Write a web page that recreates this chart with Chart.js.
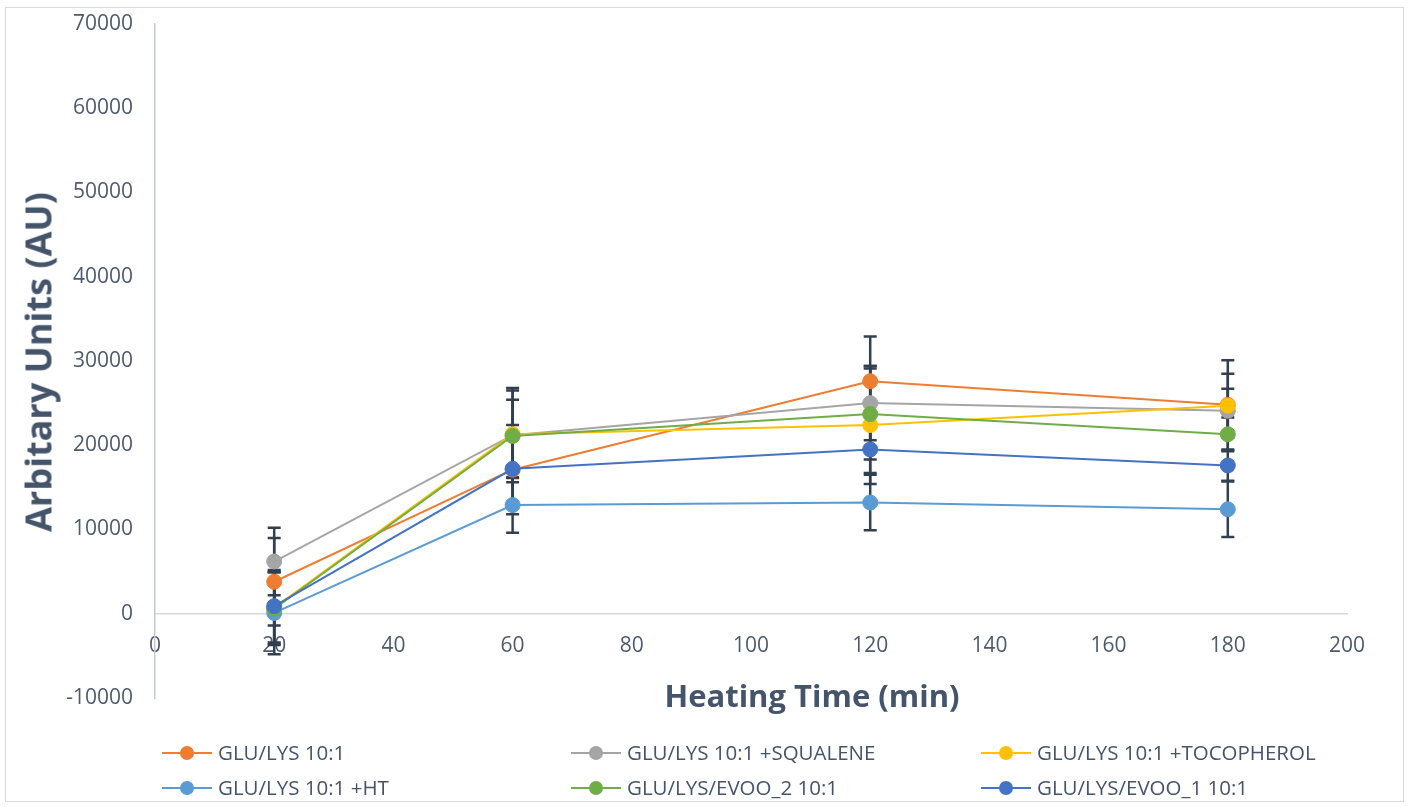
<!DOCTYPE html>
<html>
<head>
<meta charset="utf-8">
<script src="https://cdn.jsdelivr.net/npm/chart.js@4/dist/chart.umd.min.js"></script>
<style>
  html, body { margin: 0; padding: 0; background: #ffffff; }
  #wrap { position: relative; width: 1410px; height: 807px; overflow: hidden; font-family: "Open Sans", sans-serif; }
  #frame { position: absolute; left: 5px; top: 7px; width: 1399px; height: 795px; border: 1px solid #D9D9D9; box-sizing: border-box; }
  canvas { position: absolute; left: 0; top: 0; }
  .title { position: absolute; color: #44546A; font-weight: bold; white-space: nowrap; }
  #ytitle { font-size: 36px; left: 38px; top: 362px; transform: translate(-50%, -50%) rotate(-90deg); }
  #xtitle { font-size: 31px; left: 812px; top: 695px; transform: translate(-50%, -50%); }
  .leg { position: absolute; height: 20px; white-space: nowrap; color: #44546A; font-size: 20.5px; }
  .leg .ln { position: absolute; left: 0; top: 9px; width: 50px; height: 2px; }
  .leg .dot { position: absolute; left: 18px; top: 3px; width: 14px; height: 14px; border-radius: 50%; }
  .leg .tx { position: absolute; left: 56px; top: -4px; line-height: 27px; }
</style>
</head>
<body>
<div id="wrap">
  <div id="frame"></div>
  <canvas id="c" width="1410" height="807"></canvas>
  <div id="ytitle" class="title">Arbitary Units (AU)</div>
  <div id="xtitle" class="title">Heating Time (min)</div>
  <div id="legend"></div>
</div>
<script>
// ---- data ----
const heatingTimes = [20, 60, 120, 180];
const seriesNames = [
  "GLU/LYS 10:1",
  "GLU/LYS 10:1 +SQUALENE",
  "GLU/LYS 10:1 +TOCOPHEROL",
  "GLU/LYS 10:1 +HT",
  "GLU/LYS/EVOO_2 10:1",
  "GLU/LYS/EVOO_1 10:1"
];
const gluLys        = [3800, 17100, 27600, 24800];
const gluLysSqual   = [6200, 21200, 25000, 24100];
const gluLysToco    = [700, 21300, 22400, 24700];
const gluLysHT      = [100, 12900, 13200, 12400];
const gluLysEvoo2   = [600, 21100, 23700, 21300];
const gluLysEvoo1   = [900, 17200, 19500, 17600];

const errGluLys      = [5200, 5300, 5300, 5300];
const errGluLysSqual = [4000, 5600, 4400, 2600];
const errGluLysToco  = [4300, 5200, 7000, 3800];
const errGluLysHT    = [4900, 3300, 3300, 3300];
const errGluLysEvoo2 = [4300, 4300, 5400, 2000];
const errGluLysEvoo1 = [4300, 4200, 2800, 1800];

const yTicks = [-10000, 0, 10000, 20000, 30000, 40000, 50000, 60000, 70000];
const xTicks = [0, 20, 40, 60, 80, 100, 120, 140, 160, 180, 200];

const seriesValues = [gluLys, gluLysSqual, gluLysToco, gluLysHT, gluLysEvoo2, gluLysEvoo1];
const seriesErrors = [errGluLys, errGluLysSqual, errGluLysToco, errGluLysHT, errGluLysEvoo2, errGluLysEvoo1];
const seriesColors = ["#ED7D31", "#A5A5A5", "#FFC000", "#5B9BD5", "#70AD47", "#4472C4"];

const datasets = seriesNames.map((name, i) => ({
  label: name,
  order: seriesNames.length - 1 - i,
  data: heatingTimes.map((x, j) => ({ x: x, y: seriesValues[i][j] })),
  errors: seriesErrors[i],
  borderColor: seriesColors[i],
  backgroundColor: seriesColors[i],
  pointBackgroundColor: seriesColors[i],
  pointBorderColor: seriesColors[i],
  pointRadius: 7.5,
  pointBorderWidth: 1,
  borderWidth: 2,
  tension: 0,
  fill: false
}));

const errorBarPlugin = {
  id: 'errorBars',
  beforeDatasetsDraw(chart) {
    const ctx = chart.ctx;
    const xs = chart.scales.x, ys = chart.scales.y;
    ctx.save();
    ctx.strokeStyle = '#323F4F';
    ctx.lineWidth = 2.5;
    chart.data.datasets.forEach(ds => {
      ds.data.forEach((p, j) => {
        const e = ds.errors[j];
        const px = xs.getPixelForValue(p.x);
        const top = ys.getPixelForValue(p.y + e);
        const bot = ys.getPixelForValue(p.y - e);
        ctx.beginPath();
        ctx.moveTo(px, top); ctx.lineTo(px, bot);
        ctx.moveTo(px - 6.5, top); ctx.lineTo(px + 6.5, top);
        ctx.moveTo(px - 6.5, bot); ctx.lineTo(px + 6.5, bot);
        ctx.stroke();
      });
    });
    ctx.restore();
  }
};

new Chart(document.getElementById('c'), {
  type: 'line',
  data: { datasets: datasets },
  options: {
    responsive: false,
    animation: false,
    layout: { padding: { left: 0, right: 63, top: 24, bottom: 109 } },
    plugins: { legend: { display: false }, tooltip: { enabled: false } },
    scales: {
      x: {
        type: 'linear',
        position: { y: 0 },
        min: 0, max: 200,
        afterBuildTicks(scale) { scale.ticks = xTicks.map(v => ({ value: v })); },
        afterFit(scale) { scale.paddingTop = 0; scale.paddingBottom = 0; },
        grid: { display: false, drawTicks: false },
        border: { display: true, color: '#D9D9D9', width: 1.5 },
        ticks: { padding: 20, color: '#4D5B6E', font: { family: 'Open Sans', size: 21 }, maxRotation: 0,
                 callback: v => String(v) }
      },
      y: {
        type: 'linear',
        min: -10000, max: 70000,
        afterBuildTicks(scale) { scale.ticks = yTicks.map(v => ({ value: v })); },
        afterFit(scale) { scale.width = 155; scale.paddingTop = 0; scale.paddingBottom = 0; },
        grid: { display: false, drawTicks: false },
        border: { display: true, color: '#C3C9D2', width: 1.5 },
        ticks: { padding: 22, color: '#4D5B6E', font: { family: 'Open Sans', size: 21 },
                 callback: v => String(v) }
      }
    }
  },
  plugins: [errorBarPlugin]
});

// HTML legend built from the series arrays
const legendCols = [162, 571, 981];
const legendRows = [743, 778];
const legendEl = document.getElementById('legend');
seriesNames.forEach((name, i) => {
  const d = document.createElement('div');
  d.className = 'leg';
  d.style.left = legendCols[i % 3] + 'px';
  d.style.top = legendRows[Math.floor(i / 3)] + 'px';
  d.innerHTML = '<div class="ln" style="background:' + seriesColors[i] + '"></div>' +
                '<div class="dot" style="background:' + seriesColors[i] + '"></div>' +
                '<div class="tx"></div>';
  d.querySelector('.tx').textContent = name;
  legendEl.appendChild(d);
});
</script>
</body>
</html>
